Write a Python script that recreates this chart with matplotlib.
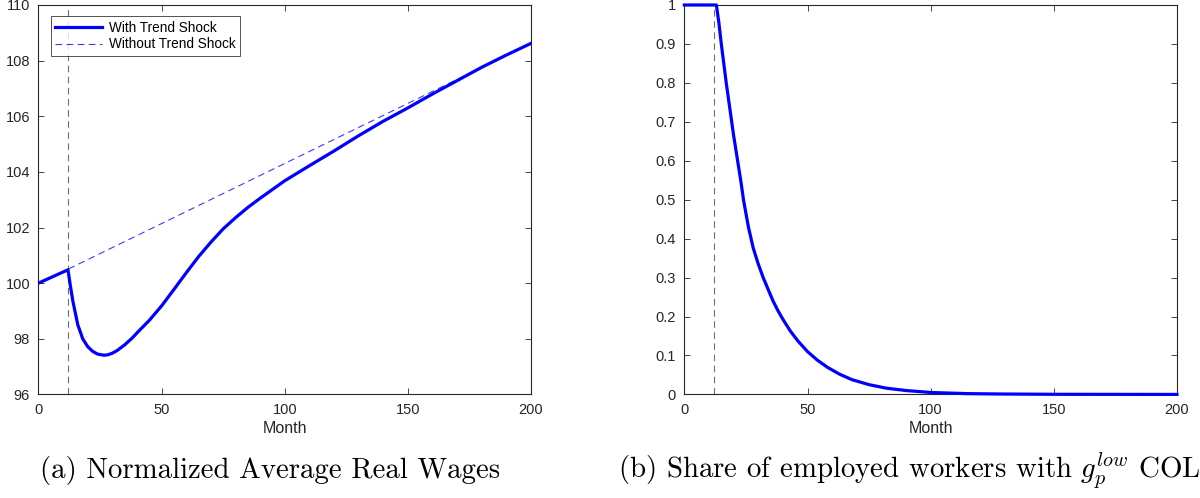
import matplotlib
matplotlib.use("Agg")
import matplotlib.pyplot as plt
from matplotlib.ticker import FuncFormatter

# Left panel: normalized average real wages
wage_months = [0, 12, 13, 14, 16, 18, 20, 22, 24, 26.5, 28, 30, 32, 35, 38,
               41, 45, 50, 55, 60, 65, 70, 75, 80, 85, 90, 100, 110, 120,
               130, 140, 150, 160, 170, 180, 190, 200]
wage_shock = [100.0, 100.48, 99.9, 99.35, 98.5, 98.0, 97.72, 97.55, 97.45,
              97.41, 97.42, 97.48, 97.58, 97.78, 98.02, 98.3, 98.66, 99.18,
              99.77, 100.37, 100.95, 101.47, 101.95, 102.35, 102.72, 103.05,
              103.68, 104.22, 104.75, 105.3, 105.82, 106.3, 106.8, 107.28,
              107.76, 108.2, 108.62]
trend_months = [0, 12, 200]
wage_no_shock = [100.0, 100.5, 108.62]

# Right panel: share of employed workers with low COLA
share_months = [0, 12.5, 13, 14, 15, 16, 17, 18, 19, 20, 21, 22, 23, 24, 26,
                28, 30, 32, 34, 36, 38, 40, 43, 46, 50, 54, 58, 63, 68, 75,
                82, 90, 100, 115, 130, 150, 200]
share_low = [1.0, 1.0, 1.0, 0.955, 0.9, 0.85, 0.8, 0.755, 0.71, 0.665, 0.625,
             0.585, 0.545, 0.5, 0.43, 0.375, 0.335, 0.3, 0.27, 0.24, 0.215,
             0.193, 0.163, 0.138, 0.11, 0.088, 0.07, 0.052, 0.038, 0.025,
             0.016, 0.01, 0.005, 0.002, 0.001, 0.0003, 0.0]

shock_month = 12

AX_COLOR = "#262626"
BLUE = "#0000ff"

plt.rcParams["font.family"] = ["Liberation Sans", "DejaVu Sans"]
plt.rcParams["mathtext.fontset"] = "cm"

fig = plt.figure(figsize=(12, 4.98), dpi=100)
ax1 = fig.add_axes([0.032, 0.208, 0.4105, 0.782])
ax2 = fig.add_axes([0.5703, 0.208, 0.4105, 0.782])


def style(ax):
    for s in ax.spines.values():
        s.set_color(AX_COLOR)
        s.set_linewidth(0.8)
    ax.tick_params(direction="in", top=True, right=True, length=4,
                   width=0.6, colors=AX_COLOR, labelsize=10.5, pad=6)
    ax.set_xlim(0, 200)
    ax.set_xticks([0, 50, 100, 150, 200])
    ax.set_xlabel("Month", fontsize=11.5, color=AX_COLOR, labelpad=3)


# (a)
ax = ax1
ax.axvline(shock_month, color="#707070", lw=0.8, ls=(0, (6, 4)), zorder=1)
ax.plot(trend_months, wage_no_shock, color="#3a3aff", lw=0.8,
        ls=(0, (6, 4)), label="Without Trend Shock", zorder=2)
ax.plot(wage_months, wage_shock, color=BLUE, lw=2.3,
        label="With Trend Shock", zorder=3)
ax.set_ylim(96, 110)
ax.set_yticks(range(96, 111, 2))
style(ax)
handles, labels = ax.get_legend_handles_labels()
leg = ax.legend(handles[::-1], labels[::-1], loc="upper left",
                bbox_to_anchor=(0.025, 0.972), borderaxespad=0,
                fontsize=9.8, frameon=True, fancybox=False,
                edgecolor=AX_COLOR, handlelength=3.4, borderpad=0.35,
                labelspacing=0.2, handletextpad=0.5)
leg.get_frame().set_linewidth(0.7)

# (b)
ax = ax2
ax.axvline(shock_month, color="#707070", lw=0.8, ls=(0, (6, 4)), zorder=1)
ax.plot(share_months, share_low, color=BLUE, lw=2.3, zorder=3, clip_on=False)
ax.set_ylim(0, 1)
ax.set_yticks([i / 10 for i in range(11)])
ax.yaxis.set_major_formatter(FuncFormatter(lambda v, p: f"{v:g}"))
style(ax)

fig.text(0.033, 0.04, "(a) Normalized Average Real Wages",
         family="cmr10", fontsize=20.8, color="black")
fig.text(0.515, 0.04,
         "(b) Share of employed workers with $g_p^{low}$ COL",
         family="cmr10", fontsize=20.8, color="black")

fig.savefig("out.png", dpi=100)
